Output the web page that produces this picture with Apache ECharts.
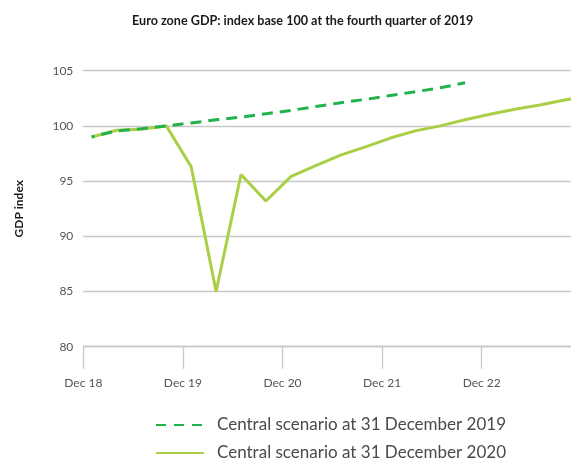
<!DOCTYPE html>
<html>
<head>
<meta charset="utf-8">
<script src="https://cdn.jsdelivr.net/npm/echarts@6/dist/echarts.min.js"></script>
<style>
  html, body { margin: 0; padding: 0; background: #fff; }
  #chart { width: 571px; height: 462px; }
</style>
</head>
<body>
<div id="chart"></div>
<script>
// Quarterly euro zone GDP, index 100 = Q4 2019
const quarters = [
  '2019Q1', '2019Q2', '2019Q3', '2019Q4',
  '2020Q1', '2020Q2', '2020Q3', '2020Q4',
  '2021Q1', '2021Q2', '2021Q3', '2021Q4',
  '2022Q1', '2022Q2', '2022Q3', '2022Q4',
  '2023Q1', '2023Q2', '2023Q3', '2023Q4',
  '2024Q1'
];

// Forecast published 31 December 2019 (runs to Q4 2022)
const scenario2019 = [
  99.0, 99.55, 99.75, 100.0,
  100.27, 100.55, 100.8, 101.1,
  101.4, 101.75, 102.1, 102.4,
  102.75, 103.1, 103.45, 103.9
];

// Forecast published 31 December 2020
const scenario2020 = [
  99.0, 99.6, 99.7, 100.0,
  96.3, 85.0, 95.6, 93.2,
  95.4, 96.4, 97.35, 98.1,
  98.9, 99.55, 100.0, 100.55,
  101.05, 101.5, 101.9, 102.35,
  102.7
];

// Axis tick labels, one per December
const tickLabels = ['Dec 18', 'Dec 19', 'Dec 20', 'Dec 21', 'Dec 22'];

const seriesNames = [
  'Central scenario at 31 December 2019',
  'Central scenario at 31 December 2020'
];

// Months elapsed since December 2018; each quarter is placed on its first month
function monthOf(q) {
  const year = parseInt(q.slice(0, 4), 10);
  const qn = parseInt(q.slice(5), 10);
  return (year - 2019) * 12 + (qn - 1) * 3 + 1;
}
const tickMonths = tickLabels.map((_, i) => i * 12);

function pairs(values) {
  return values.map((v, i) => [monthOf(quarters[i]), v]);
}

const fontFamily = 'Lato, "Noto Sans", sans-serif';
const chart = echarts.init(document.getElementById('chart'), null, { renderer: 'canvas' });

chart.setOption({
  animation: false,
  backgroundColor: '#ffffff',
  title: {
    text: 'Euro zone GDP: index base 100 at the fourth quarter of 2019',
    left: 132,
    top: 14,
    padding: 0,
    textStyle: { fontFamily, fontSize: 12.6, fontWeight: 'bold', color: '#1a1a1a' }
  },
  grid: { left: 83.3, right: 0, top: 70.7, bottom: 115.3, containLabel: false },
  legend: {
    orient: 'vertical',
    left: 155,
    top: 415,
    height: 80,
    padding: 0,
    itemWidth: 48,
    itemHeight: 14,
    itemGap: 8,
    data: [
      { name: seriesNames[0], lineStyle: { type: [10, 8], dashOffset: 0 } },
      { name: seriesNames[1] }
    ],
    itemStyle: { opacity: 0 },
    textStyle: {
      fontFamily, fontSize: 17, color: '#4a4a4a', lineHeight: 20,
      padding: [0, 0, 0, 8]
    }
  },
  xAxis: {
    type: 'value',
    min: 0,
    max: 58.76,
    axisLine: { show: true, lineStyle: { color: '#c8c8c8', width: 1.3 } },
    axisTick: {
      show: true,
      customValues: tickMonths,
      length: 22,
      lineStyle: { color: '#c8c8c8', width: 1.3 }
    },
    axisLabel: {
      customValues: tickMonths,
      margin: 30,
      fontFamily,
      fontSize: 12,
      color: '#555555',
      formatter: (v) => tickLabels[Math.round(v / 12)] || ''
    },
    splitLine: { show: false }
  },
  yAxis: {
    type: 'value',
    min: 80,
    max: 105,
    interval: 5,
    name: 'GDP index',
    nameLocation: 'middle',
    nameGap: 58,
    nameTextStyle: { fontFamily, fontSize: 12, fontWeight: 'bold', color: '#1a1a1a' },
    axisLine: { show: false },
    axisTick: { show: false },
    axisLabel: { margin: 10, fontFamily, fontSize: 12, color: '#555555' },
    splitLine: { show: true, lineStyle: { color: '#c8c8c8', width: 1.3 } }
  },
  series: [
    {
      name: seriesNames[1],
      type: 'line',
      data: pairs(scenario2020),
      symbol: 'none',
      z: 2,
      lineStyle: { color: '#a8cf45', width: 3, type: 'solid' },
      itemStyle: { color: '#a8cf45' }
    },
    {
      name: seriesNames[0],
      type: 'line',
      data: pairs(scenario2019),
      symbol: 'none',
      z: 3,
      lineStyle: { color: '#22b24c', width: 3, type: [11, 7], dashOffset: 8 },
      itemStyle: { color: '#22b24c' }
    }
  ]
});
</script>
</body>
</html>
